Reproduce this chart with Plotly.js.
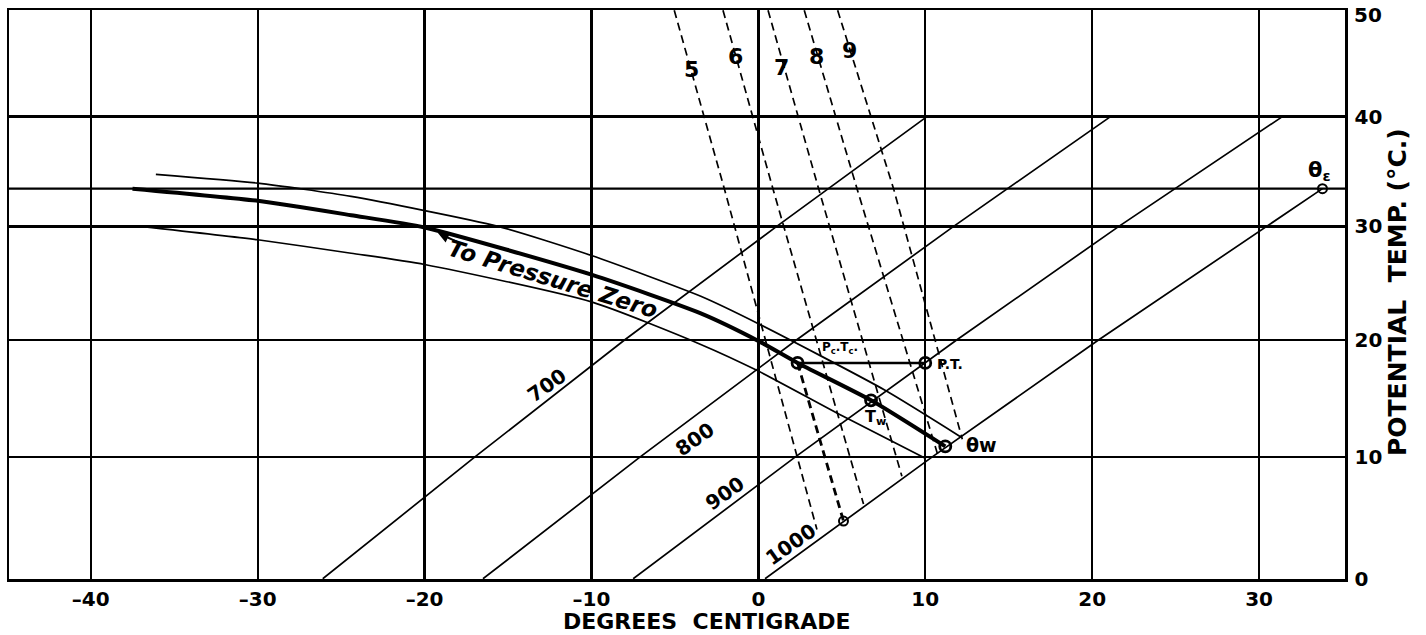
<!DOCTYPE html>
<html>
<head>
<meta charset="utf-8">
<script src="https://cdn.plot.ly/plotly-3.0.1.min.js"></script>
<style>html,body{margin:0;padding:0;background:#fff;}#chart{width:1426px;height:635px;}</style>
</head>
<body>
<div id="chart"></div>
<script>
// ---- data (°C) ----
const K = 273;
const xTickVals = [-40, -30, -20, -10, 0, 10, 20, 30];
const xTickText = ['–40', '–30', '–20', '–10', '0', '10', '20', '30'];
const yTickVals = [0, 10, 20, 30, 40, 50];
const yTickText = ['0', '10', '20', '30', '40', ''];   // the top label "50" is drawn as an annotation
const yTopLabel = '50';

// isobars: temperature where each crosses the potential-temperature grid lines
const isoTheta = [0, 10, 20, 30, 40];
const iso700T = [-26.1, -17.0, -8.0, 1.1, 10.1];
const iso800T = [-16.5, -7.1, 2.3, 11.7, 21.1];
const iso900T = [-7.5, 2.2, 11.9, 21.6, 31.4];
const iso1000T = [0.4, 10.4, 20.4, 30.4, 33.8];
const iso1000Theta = [0, 10, 20, 30, 33.4];
const isoLabels = ['700', '800', '900', '1000'];
const isoLabelX = [-12.65, -3.78, -1.98, 1.97];
const isoLabelY = [16.1, 11.5, 7.0, 2.8];

// mixing-ratio lines (g/kg)
const mixLabels = ['5', '6', '7', '8', '9'];
const mix5T = [-5.04, -2.04, 3.51];   const mix5Th = [50, 33.4, 4.0];
const mix6T = [-2.12, 0.87, 6.30];    const mix6Th = [50, 33.4, 6.1];
const mix7T = [0.58, 3.61, 8.60];     const mix7Th = [50, 33.4, 8.4];
const mix8T = [2.75, 5.91, 10.77];    const mix8Th = [50, 33.4, 10.1];
const mix9T = [4.75, 8.10, 12.22];    const mix9Th = [50, 33.4, 11.5];
const mixLabelX = [-3.98, -1.38, 1.37, 3.47, 5.47];
const mixLabelY = [44.4, 45.6, 44.6, 45.6, 46.2];

// saturation adiabats
const satUpperT = [-36.1, -30, -24.4, -15.6, -10, -3.45, 0, 7.54, 12.13];
const satUpperTh = [34.7, 33.9, 32.7, 30.0, 27.4, 23.8, 21.4, 15.7, 11.7];
const satMainT = [-37.5, -30, -24.4, -20, -10, -3.45, 0, 2.35, 6.75, 11.2];
const satMainTh = [33.4, 32.3, 31.0, 29.9, 25.7, 22.3, 19.9, 18.0, 14.8, 10.9];
const satLowerT = [-37, -30, -24.4, -20, -10, -3.45, 0, 5.14, 10.0];
const satLowerTh = [30.0, 28.8, 27.6, 26.6, 23.3, 19.6, 17.3, 13.4, 9.9];

// key points
const thetaE = 33.4;
const ptT = 10.0, ptTh = 18.0;       // P.T.
const pcT = 2.35, pcTh = 18.0;       // Pc.Tc.
const twT = 6.75, twTh = 14.8;       // Tw
const thwT = 11.2, thwTh = 10.9;     // θw
const theT = 33.8, theTh = 33.4;     // θε
const tdT = 5.1, tdTh = 4.7;         // dew point on 1000 mb

// ---- helpers ----
const k = a => a.map(v => v + K);
const ly = v => Math.log10(v + K);
const FONT = 'DejaVu Sans';
const XR = [-44.9, 35.15];

function line(x, y, w, dash, shape) {
  return {type: 'scatter', mode: 'lines', x: x, y: k(y), hoverinfo: 'skip',
    line: {color: '#000', width: w, dash: dash || 'solid', shape: shape || 'linear', smoothing: 0.6}};
}

const traces = [
  line(XR, [thetaE, thetaE], 2.3),
  line(iso700T, isoTheta, 1.7),
  line(iso800T, isoTheta, 1.7),
  line(iso900T, isoTheta, 1.7),
  line(iso1000T, iso1000Theta, 1.7),
  line(mix5T, mix5Th, 1.7, '8px,5px'),
  line(mix6T, mix6Th, 1.7, '8px,5px'),
  line(mix7T, mix7Th, 1.7, '8px,5px'),
  line(mix8T, mix8Th, 1.7, '8px,5px'),
  line(mix9T, mix9Th, 1.7, '8px,5px'),
  line(satUpperT, satUpperTh, 1.7, 'solid', 'spline'),
  line(satLowerT, satLowerTh, 1.7, 'solid', 'spline'),
  line(satMainT, satMainTh, 4, 'solid', 'spline'),
  line([pcT, ptT], [pcTh, ptTh], 2.6),
  line([pcT, tdT], [pcTh, tdTh], 2.8, '8px,5px'),
  {type: 'scatter', mode: 'markers', x: [ptT, pcT, twT, thwT], y: k([ptTh, pcTh, twTh, thwTh]), hoverinfo: 'skip',
    marker: {symbol: 'circle-open', size: 11, color: '#000', line: {width: 2.8, color: '#000'}}},
  {type: 'scatter', mode: 'markers', x: [theT, tdT], y: k([theTh, tdTh]), hoverinfo: 'skip',
    marker: {symbol: 'circle-open', size: 9, color: '#000', line: {width: 2, color: '#000'}}}
];

const ann = [];
function txt(text, x, y, size, opts) {
  ann.push(Object.assign({text: text, x: x, y: ly(y), xref: 'x', yref: 'y', showarrow: false,
    font: {family: FONT, size: size, color: '#000', weight: 'bold'}}, opts || {}));
}
isoLabels.forEach((t, i) => txt(t, isoLabelX[i], isoLabelY[i], 20, {textangle: -35}));
mixLabels.forEach((t, i) => txt(t, mixLabelX[i], mixLabelY[i], 22));
txt('P.T.', 10.6, 17.9, 14, {xanchor: 'left'});
txt('P<sub>c</sub>.T<sub>c</sub>.', 4.9, 19.3, 12);
txt('T<sub>w</sub>', 7.0, 13.3, 16);
txt('θw', 13.35, 11.0, 19);
txt('θ<sub>ε</sub>', 33.6, 35.0, 21);
ann.push({text: 'To Pressure Zero', x: -12.3, y: ly(25.3), xref: 'x', yref: 'y', showarrow: false,
  textangle: 17, font: {family: FONT, size: 23, color: '#000', weight: 'bold', style: 'italic'}});
ann.push({text: '', x: -19.2, y: ly(29.4), xref: 'x', yref: 'y', showarrow: true, ax: 22, ay: 10,
  arrowhead: 2, arrowsize: 1.1, arrowwidth: 2, arrowcolor: '#000'});
// top y tick label, nudged down so it stays inside the picture
ann.push({text: yTopLabel, xref: 'paper', yref: 'paper', x: 1.0055, y: 0.9912,
  xanchor: 'left', yanchor: 'middle', showarrow: false,
  font: {family: FONT, size: 20, color: '#000', weight: 'bold'}});
// axis titles
ann.push({text: 'DEGREES  CENTIGRADE', xref: 'paper', yref: 'paper', x: 0.6317, y: -0.075,
  xanchor: 'right', yanchor: 'middle', showarrow: false,
  font: {family: FONT, size: 22, color: '#000', weight: 'bold'}});
ann.push({text: 'POTENTIAL  TEMP. (°C.)', xref: 'paper', yref: 'paper', x: 1.0392, y: 0.505,
  xanchor: 'center', yanchor: 'middle', textangle: -90, showarrow: false,
  font: {family: FONT, size: 25, color: '#000', weight: 'bold'}});

const axisCommon = {
  showgrid: true, gridcolor: '#000', gridwidth: 2.3, zeroline: false,
  showline: true, mirror: true, linecolor: '#000', linewidth: 2.5,
  ticks: '', ticklabelstandoff: 0,
  tickfont: {family: FONT, size: 20, color: '#000', weight: 'bold'}
};

const layout = {
  width: 1426, height: 635,
  margin: {l: 9, r: 81, t: 10, b: 56},
  paper_bgcolor: '#fff', plot_bgcolor: '#fff', showlegend: false,
  xaxis: Object.assign({}, axisCommon, {range: XR, tickmode: 'array', tickvals: xTickVals, ticktext: xTickText}),
  yaxis: Object.assign({}, axisCommon, {type: 'log', side: 'right', ticklabelstandoff: 3,
    range: [Math.log10(K - 0.02), Math.log10(50.03 + K)], tickmode: 'array', tickvals: k(yTickVals), ticktext: yTickText}),
  annotations: ann
};

Plotly.newPlot('chart', traces, layout, {displayModeBar: false, staticPlot: true});
</script>
</body>
</html>
